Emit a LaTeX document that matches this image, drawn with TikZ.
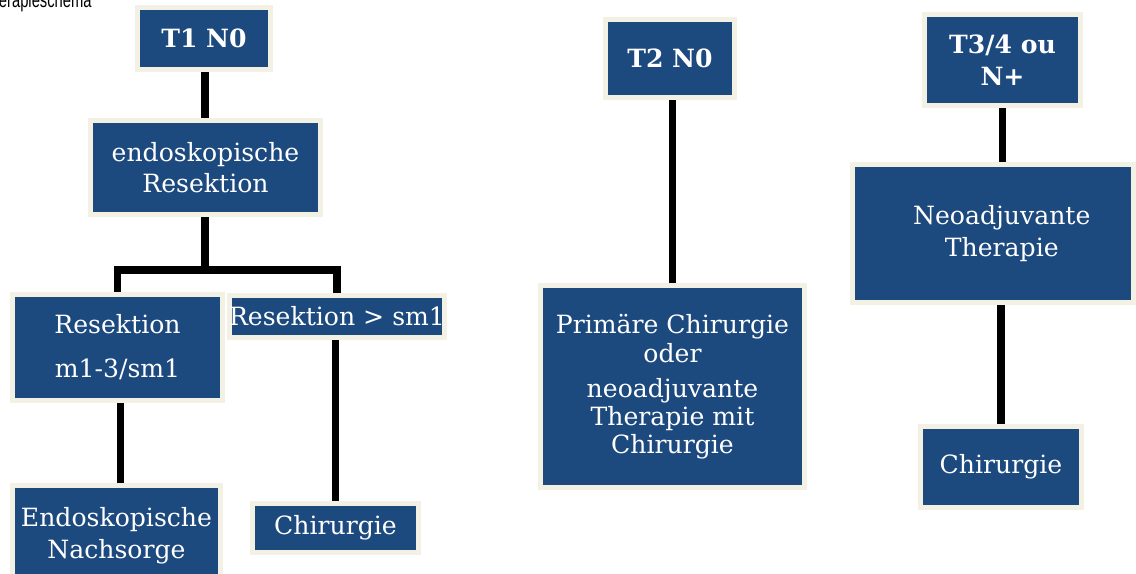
\documentclass[tikz,border=0pt]{standalone}
\usepackage{fontspec}
\usetikzlibrary{backgrounds}
\newfontfamily\stufenfont{DejaVu Serif}
\newfontfamily\titelfont[FakeStretch=0.7]{Liberation Sans}
\definecolor{kastenblau}{RGB}{28,73,126}
\definecolor{kastenrand}{RGB}{243,240,228}
\tikzset{
	stufe/.style={rectangle, fill=kastenblau, draw=kastenrand, line width=1mm, text=white, align=center, inner sep=0pt, font=\stufenfont\fontsize{14.3}{18}\selectfont},
	kopf/.style={stufe, font=\stufenfont\bfseries\fontsize{14.3}{18.5}\selectfont},
	linie/.style={line width=1.5mm, line join=miter}
}
\begin{document}
\begin{tikzpicture}[x=0.02cm, y=-0.02cm]
	\useasboundingbox (0,0) rectangle (1136,574);
	
	% Titel (links abgeschnitten)
	\node (titel) [anchor=base east, inner sep=0pt, font=\titelfont\fontsize{12}{14}\selectfont] at (92,8) {Therapieschema};
	
	% T1 N0
	\node (t1) [kopf, minimum width=2.66cm, minimum height=1.24cm] at (204,38.5) {T1 N0};
	\node (endo) [stufe, minimum width=4.6cm, minimum height=1.88cm] at (205.5,167.5) {endoskopische\\Resektion};
	\node (resm) [stufe, minimum width=4.2cm, minimum height=2.12cm] at (117.5,347.5) {Resektion\\[7pt]m1-3/sm1};
	\node (ressm) [stufe, minimum width=4.3cm, minimum height=0.84cm] at (337,316.5) {Resektion > sm1};
	\node (nachsorge) [stufe, minimum width=4.16cm, minimum height=2cm] at (116.5,535.5) {Endoskopische\\Nachsorge};
	\node (chir1) [stufe, minimum width=3.32cm, minimum height=0.98cm] at (335.5,528) {Chirurgie};
	\coordinate (gabel) at (205,270);
	
	% T2 N0
	\node (t2) [kopf, minimum width=2.58cm, minimum height=1.56cm] at (670,58.5) {T2 N0};
	\node (prim) [stufe, minimum width=5.28cm, minimum height=4.04cm] at (672.5,386.5) {Primäre Chirurgie\\[-1.5pt]oder\\[2pt]neoadjuvante\\[-2pt]Therapie mit\\[-2pt]Chirurgie};
	
	% T3/4 ou N+
	\node (t3) [kopf, minimum width=3.12cm, minimum height=1.82cm] at (1002.5,60) {T3/4 ou\\N+};
	\node (neo) [stufe, minimum width=5.62cm, minimum height=2.76cm] at (993,233.5) {\hspace*{10pt}Neoadjuvante\\\hspace*{10pt}Therapie};
	\node (chir2) [stufe, minimum width=3.22cm, minimum height=1.62cm] at (1001,467) {Chirurgie};
	
	% Verbindungen
	\begin{scope}[on background layer]
		\draw[linie] (t1.south -| gabel) -- (gabel |- endo.north);
		\draw[linie] (gabel |- endo.south) -- (gabel);
		\draw[linie] (resm.north) -- (resm.north |- gabel) -- (ressm.north |- gabel) -- (ressm.north);
		\draw[linie] ([xshift=0.06cm]resm.south) -- ([xshift=0.06cm]resm.south |- nachsorge.north);
		\draw[linie] (ressm.south -| chir1) -- (chir1.north);
		\draw[linie] (t2.south -| prim) -- (prim.north);
		\draw[linie] (t3.south) -- (t3.south |- neo.north);
		\draw[linie] (chir2.north |- neo.south) -- (chir2.north);
	\end{scope}
	
\end{tikzpicture}
\end{document}
